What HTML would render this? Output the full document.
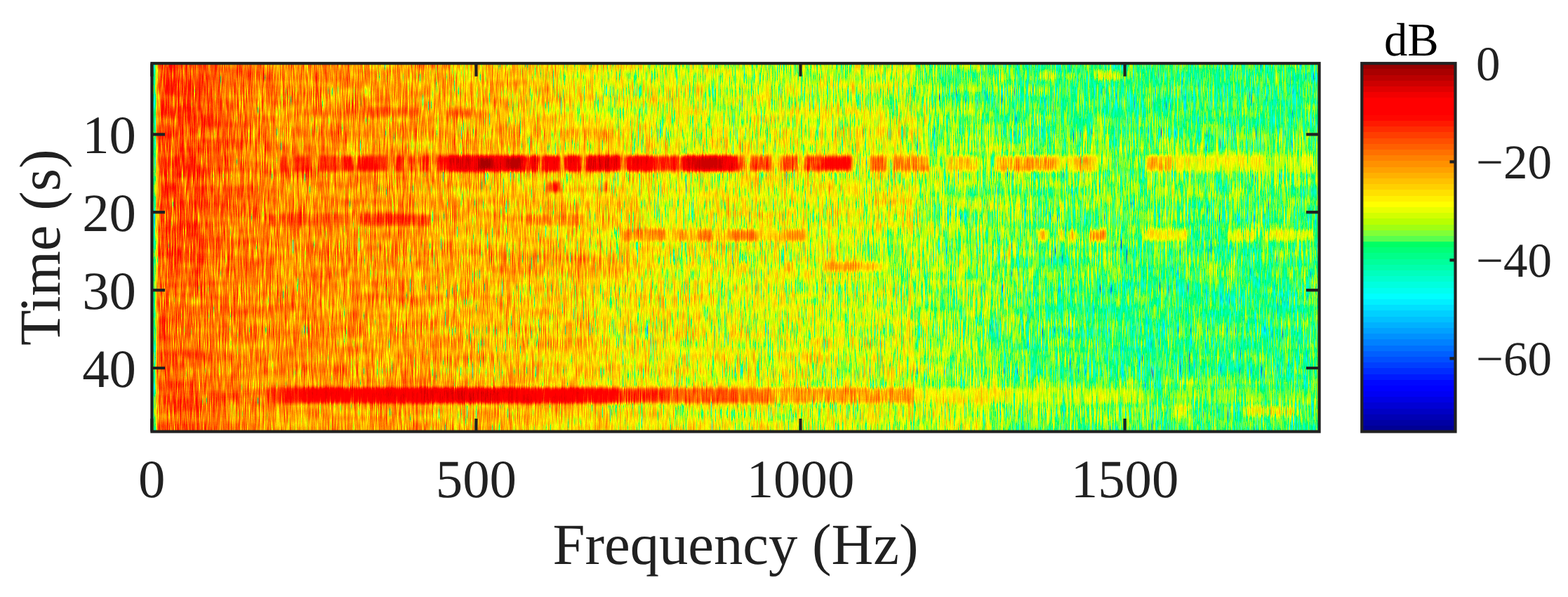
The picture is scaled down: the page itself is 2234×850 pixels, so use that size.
<!DOCTYPE html>
<html lang="en"><head><meta charset="utf-8"><title>Spectrogram</title>
<style>html,body{margin:0;padding:0;background:#fff;overflow:hidden}svg{display:block}text{font-family:"Liberation Serif","DejaVu Serif",serif;fill:#212121;text-rendering:geometricPrecision}</style></head>
<body>
<svg width="2234" height="850" viewBox="0 0 2234 850">
<rect width="2234" height="850" fill="#fff"/>
<defs>
<filter id="nzL" filterUnits="userSpaceOnUse" x="216.4" y="90.2" width="1663.2" height="524.3" color-interpolation-filters="sRGB">
<feTurbulence type="fractalNoise" baseFrequency="2.618 0.05" numOctaves="1" seed="7" result="ta"/>
<feColorMatrix in="ta" type="matrix" values="1 0 0 0 0 1 0 0 0 0 1 0 0 0 0 0 0 0 0 1" result="na"/>
<feTurbulence type="fractalNoise" baseFrequency="3.3 0.018" numOctaves="1" seed="23" result="tb"/>
<feColorMatrix in="tb" type="matrix" values="1 0 0 0 0 1 0 0 0 0 1 0 0 0 0 0 0 0 0 1" result="nb"/>
<feComposite in="na" in2="nb" operator="arithmetic" k1="0" k2="0.500" k3="0.500" k4="0" result="mix"/>
<feComponentTransfer in="mix" result="m"><feFuncR type="table" tableValues="0.179 0.179 0.179 0.179 0.179 0.179 0.179 0.179 0.179 0.179 0.179 0.179 0.179 0.179 0.179 0.179 0.179 0.215 0.256 0.291 0.319 0.343 0.364 0.382 0.399 0.415 0.43 0.444 0.457 0.469 0.48 0.49 0.5 0.509 0.518 0.526 0.534 0.542 0.549 0.556 0.563 0.57 0.576 0.582 0.589 0.596 0.602 0.609 0.615 0.615 0.615 0.615 0.615 0.615 0.615 0.615 0.615 0.615 0.615 0.615 0.615 0.615 0.615 0.615 0.615"/><feFuncG type="table" tableValues="0.179 0.179 0.179 0.179 0.179 0.179 0.179 0.179 0.179 0.179 0.179 0.179 0.179 0.179 0.179 0.179 0.179 0.215 0.256 0.291 0.319 0.343 0.364 0.382 0.399 0.415 0.43 0.444 0.457 0.469 0.48 0.49 0.5 0.509 0.518 0.526 0.534 0.542 0.549 0.556 0.563 0.57 0.576 0.582 0.589 0.596 0.602 0.609 0.615 0.615 0.615 0.615 0.615 0.615 0.615 0.615 0.615 0.615 0.615 0.615 0.615 0.615 0.615 0.615 0.615"/><feFuncB type="table" tableValues="0.179 0.179 0.179 0.179 0.179 0.179 0.179 0.179 0.179 0.179 0.179 0.179 0.179 0.179 0.179 0.179 0.179 0.215 0.256 0.291 0.319 0.343 0.364 0.382 0.399 0.415 0.43 0.444 0.457 0.469 0.48 0.49 0.5 0.509 0.518 0.526 0.534 0.542 0.549 0.556 0.563 0.57 0.576 0.582 0.589 0.596 0.602 0.609 0.615 0.615 0.615 0.615 0.615 0.615 0.615 0.615 0.615 0.615 0.615 0.615 0.615 0.615 0.615 0.615 0.615"/></feComponentTransfer>
<feTurbulence type="fractalNoise" baseFrequency="0.013 0.06" numOctaves="2" seed="11" result="t2"/>
<feColorMatrix in="t2" type="matrix" values="1 0 0 0 0 1 0 0 0 0 1 0 0 0 0 0 0 0 0 1" result="n2"/>
<feComposite in="SourceGraphic" in2="n2" operator="arithmetic" k1="0" k2="1" k3="0.110" k4="-0.0550" result="c1"/>
<feComposite in="c1" in2="m" operator="arithmetic" k1="0" k2="1" k3="1" k4="-0.5"/>
</filter>
<filter id="nzH" filterUnits="userSpaceOnUse" x="216.4" y="90.2" width="1663.2" height="524.3" color-interpolation-filters="sRGB">
<feTurbulence type="fractalNoise" baseFrequency="2.618 0.05" numOctaves="1" seed="7" result="ta"/>
<feColorMatrix in="ta" type="matrix" values="1 0 0 0 0 1 0 0 0 0 1 0 0 0 0 0 0 0 0 1" result="na"/>
<feTurbulence type="fractalNoise" baseFrequency="3.3 0.018" numOctaves="1" seed="23" result="tb"/>
<feColorMatrix in="tb" type="matrix" values="1 0 0 0 0 1 0 0 0 0 1 0 0 0 0 0 0 0 0 1" result="nb"/>
<feComposite in="na" in2="nb" operator="arithmetic" k1="0" k2="0.500" k3="0.500" k4="0" result="mix"/>
<feComponentTransfer in="mix" result="m"><feFuncR type="table" tableValues="0.126 0.126 0.126 0.126 0.126 0.126 0.126 0.126 0.126 0.126 0.126 0.126 0.126 0.126 0.126 0.126 0.126 0.168 0.215 0.256 0.289 0.317 0.341 0.363 0.383 0.401 0.419 0.435 0.45 0.463 0.476 0.488 0.5 0.511 0.521 0.531 0.54 0.549 0.558 0.566 0.574 0.582 0.589 0.596 0.604 0.612 0.619 0.627 0.634 0.634 0.634 0.634 0.634 0.634 0.634 0.634 0.634 0.634 0.634 0.634 0.634 0.634 0.634 0.634 0.634"/><feFuncG type="table" tableValues="0.126 0.126 0.126 0.126 0.126 0.126 0.126 0.126 0.126 0.126 0.126 0.126 0.126 0.126 0.126 0.126 0.126 0.168 0.215 0.256 0.289 0.317 0.341 0.363 0.383 0.401 0.419 0.435 0.45 0.463 0.476 0.488 0.5 0.511 0.521 0.531 0.54 0.549 0.558 0.566 0.574 0.582 0.589 0.596 0.604 0.612 0.619 0.627 0.634 0.634 0.634 0.634 0.634 0.634 0.634 0.634 0.634 0.634 0.634 0.634 0.634 0.634 0.634 0.634 0.634"/><feFuncB type="table" tableValues="0.126 0.126 0.126 0.126 0.126 0.126 0.126 0.126 0.126 0.126 0.126 0.126 0.126 0.126 0.126 0.126 0.126 0.168 0.215 0.256 0.289 0.317 0.341 0.363 0.383 0.401 0.419 0.435 0.45 0.463 0.476 0.488 0.5 0.511 0.521 0.531 0.54 0.549 0.558 0.566 0.574 0.582 0.589 0.596 0.604 0.612 0.619 0.627 0.634 0.634 0.634 0.634 0.634 0.634 0.634 0.634 0.634 0.634 0.634 0.634 0.634 0.634 0.634 0.634 0.634"/></feComponentTransfer>
<feTurbulence type="fractalNoise" baseFrequency="0.013 0.06" numOctaves="2" seed="11" result="t2"/>
<feColorMatrix in="t2" type="matrix" values="1 0 0 0 0 1 0 0 0 0 1 0 0 0 0 0 0 0 0 1" result="n2"/>
<feComposite in="SourceGraphic" in2="n2" operator="arithmetic" k1="0" k2="1" k3="0.110" k4="-0.0550" result="c1"/>
<feComposite in="c1" in2="m" operator="arithmetic" k1="0" k2="1" k3="1" k4="-0.5"/>
</filter>
<filter id="cm" filterUnits="userSpaceOnUse" x="216.4" y="90.2" width="1663.2" height="524.3" color-interpolation-filters="sRGB">
<feComponentTransfer><feFuncR type="discrete" tableValues="0 0 0 0 0 0 0 0 0 0 0 0 0 0 0 0 0 0 0 0 0 0 0 0 0 0 0 0 0 0 0 0 0 0.348 0.501 0.622 0.727 0.823 0.914 1 1 1 1 1 1 1 1 1 1 1 1 1 1 1 1 1 1 1 0.948 0.877 0.806 0.734 0.661 0.588"/><feFuncG type="discrete" tableValues="0 0 0 0 0 0 0 0 0.029 0.102 0.173 0.241 0.308 0.374 0.44 0.504 0.568 0.631 0.693 0.756 0.817 0.878 0.939 1 1 1 1 1 1 1 1 1 1 1 1 1 1 1 1 1 0.939 0.878 0.817 0.756 0.693 0.631 0.568 0.504 0.44 0.374 0.308 0.241 0.173 0.102 0.029 0 0 0 0 0 0 0 0 0"/><feFuncB type="discrete" tableValues="0.579 0.643 0.707 0.77 0.833 0.895 0.957 1 1 1 1 1 1 1 1 1 1 1 1 1 1 1 1 1 0.937 0.873 0.808 0.743 0.676 0.608 0.538 0.466 0.391 0.309 0.215 0.075 0 0 0 0 0 0 0 0 0 0 0 0 0 0 0 0 0 0 0 0 0 0 0 0 0 0 0 0"/></feComponentTransfer>
</filter>
<filter id="b1" filterUnits="userSpaceOnUse" x="156.4" y="30.2" width="1783.2" height="644.3" color-interpolation-filters="sRGB"><feGaussianBlur stdDeviation="14 7"/></filter>
<filter id="b2" filterUnits="userSpaceOnUse" x="216.4" y="90.2" width="1663.2" height="524.3" color-interpolation-filters="sRGB"><feGaussianBlur stdDeviation="2.4 2.4"/></filter>
<linearGradient id="bg" gradientUnits="userSpaceOnUse" x1="216.4" y1="0" x2="1879.6" y2="0"><stop offset="0.0000" stop-color="#7a7a7a"/><stop offset="0.0028" stop-color="#7a7a7a"/><stop offset="0.0040" stop-color="#adadad"/><stop offset="0.0066" stop-color="#cacaca"/><stop offset="0.0144" stop-color="#cecece"/><stop offset="0.0325" stop-color="#cccccc"/><stop offset="0.0505" stop-color="#c7c7c7"/><stop offset="0.0806" stop-color="#c1c1c1"/><stop offset="0.1106" stop-color="#bdbdbd"/><stop offset="0.1707" stop-color="#bababa"/><stop offset="0.2549" stop-color="#b3b3b3"/><stop offset="0.3511" stop-color="#a9a9a9"/><stop offset="0.4112" stop-color="#a2a2a2"/><stop offset="0.4713" stop-color="#9e9e9e"/><stop offset="0.5614" stop-color="#989898"/><stop offset="0.6492" stop-color="#949494"/><stop offset="0.6528" stop-color="#909090"/><stop offset="0.7117" stop-color="#8c8c8c"/><stop offset="0.7718" stop-color="#878787"/><stop offset="0.8320" stop-color="#848484"/><stop offset="1.0003" stop-color="#828282"/></linearGradient>
<linearGradient id="mg" gradientUnits="userSpaceOnUse" x1="280" y1="0" x2="700" y2="0"><stop offset="0" stop-color="#000"/><stop offset="1" stop-color="#fff"/></linearGradient>
<mask id="mk" maskUnits="userSpaceOnUse" x="216.4" y="90.2" width="1663.2" height="524.3"><rect x="216.4" y="90.2" width="1663.2" height="524.3" fill="url(#mg)"/></mask>
<g id="S">
<rect x="216.4" y="90.2" width="1663.2" height="524.3" fill="url(#bg)"/>
<g filter="url(#b1)">
<rect x="800" y="92" width="530" height="98" fill="#8e8e8e" opacity="0.35"/>
<rect x="1330" y="92" width="550" height="108" fill="#737373" opacity="0.25"/>
<rect x="1450" y="400" width="430" height="140" fill="#6f6f6f" opacity="0.20"/>
<rect x="1050" y="150" width="280" height="180" fill="#adadad" opacity="0.30"/>
<rect x="225" y="580" width="295" height="34" fill="#b0b0b0" opacity="0.40"/>
<rect x="230" y="380" width="220" height="170" fill="#b7b7b7" opacity="0.45"/>
<rect x="1050" y="577" width="370" height="37" fill="#a6a6a6" opacity="0.30"/>
<rect x="1050" y="470" width="250" height="75" fill="#a6a6a6" opacity="0.30"/>
<rect x="1300" y="185" width="580" height="115" fill="#929292" opacity="0.35"/>
<rect x="1300" y="545" width="420" height="69" fill="#959595" opacity="0.35"/>
<rect x="630" y="358" width="270" height="34" fill="#c5c5c5" opacity="0.40"/>
<rect x="770" y="298" width="110" height="20" fill="#c1c1c1" opacity="0.40"/>
<rect x="770" y="180" width="160" height="20" fill="#c1c1c1" opacity="0.35"/>
<rect x="770" y="475" width="80" height="23" fill="#c1c1c1" opacity="0.35"/>
</g>
<g filter="url(#b2)">
<rect x="1673" y="214.8" width="204" height="32" fill="#939393" opacity="0.6"/>
<rect x="401" y="222.3" width="9" height="21" fill="#d4d4d4" opacity="0.92"/>
<rect x="420" y="222.3" width="23" height="21" fill="#d8d8d8" opacity="0.92"/>
<rect x="455" y="222.3" width="13" height="21" fill="#d8d8d8" opacity="0.92"/>
<rect x="471" y="222.3" width="13" height="21" fill="#d7d7d7" opacity="0.92"/>
<rect x="489" y="222.3" width="15" height="21" fill="#dadada" opacity="0.92"/>
<rect x="508" y="222.3" width="42" height="21" fill="#dcdcdc" opacity="0.92"/>
<rect x="563" y="222.3" width="12" height="21" fill="#d8d8d8" opacity="0.92"/>
<rect x="583" y="222.3" width="7" height="21" fill="#d7d7d7" opacity="0.92"/>
<rect x="600" y="222.3" width="12" height="21" fill="#dadada" opacity="0.92"/>
<rect x="624" y="222.3" width="12" height="21" fill="#dddddd" opacity="0.92"/>
<rect x="638" y="222.3" width="112" height="21" fill="#eaeaea" opacity="0.92"/>
<rect x="754" y="222.3" width="14" height="21" fill="#e7e7e7" opacity="0.92"/>
<rect x="773" y="222.3" width="24" height="21" fill="#e7e7e7" opacity="0.92"/>
<rect x="805" y="222.3" width="23" height="21" fill="#e7e7e7" opacity="0.92"/>
<rect x="835" y="222.3" width="49" height="21" fill="#ececec" opacity="0.92"/>
<rect x="892" y="222.3" width="43" height="21" fill="#e7e7e7" opacity="0.92"/>
<rect x="936" y="222.3" width="15" height="21" fill="#d9d9d9" opacity="0.92"/>
<rect x="952" y="222.3" width="15" height="21" fill="#dddddd" opacity="0.92"/>
<rect x="970" y="222.3" width="80" height="21" fill="#eaeaea" opacity="0.92"/>
<rect x="1050" y="222.3" width="10" height="21" fill="#cdcdcd" opacity="0.92"/>
<rect x="1069" y="222.3" width="29" height="21" fill="#cfcfcf" opacity="0.92"/>
<rect x="1113" y="222.3" width="23" height="21" fill="#cdcdcd" opacity="0.92"/>
<rect x="1147" y="222.3" width="68" height="21" fill="#d3d3d3" opacity="0.92"/>
<rect x="1239" y="222.3" width="24" height="21" fill="#c5c5c5" opacity="0.92"/>
<rect x="1272" y="222.3" width="51" height="21" fill="#bbbbbb" opacity="0.92"/>
<rect x="1349" y="222.3" width="44" height="21" fill="#adadad" opacity="0.92"/>
<rect x="1418" y="222.3" width="87" height="21" fill="#b6b6b6" opacity="0.92"/>
<rect x="1532" y="222.3" width="30" height="21" fill="#b2b2b2" opacity="0.92"/>
<rect x="1635" y="222.3" width="35" height="21" fill="#b2b2b2" opacity="0.92"/>
<rect x="1673" y="222.3" width="127" height="21" fill="#a1a1a1" opacity="0.92"/>
<rect x="1800" y="222.3" width="77" height="21" fill="#989898" opacity="0.92"/>
<rect x="682" y="224.8" width="19" height="16" fill="#fcfcfc" opacity="0.95"/>
<rect x="722" y="224.8" width="19" height="16" fill="#f8f8f8" opacity="0.95"/>
<rect x="990" y="224.8" width="40" height="16" fill="#f3f3f3" opacity="0.95"/>
<rect x="1171" y="224.8" width="38" height="16" fill="#dddddd" opacity="0.95"/>
<rect x="1505" y="222.8" width="27" height="20" fill="#a3a3a3" opacity="0.7"/>
<rect x="1562" y="222.8" width="22" height="20" fill="#9c9c9c" opacity="0.7"/>
<rect x="380" y="552.5" width="20" height="21" fill="#cfcfcf" opacity="0.92"/>
<rect x="400" y="552.5" width="30" height="21" fill="#d9d9d9" opacity="0.92"/>
<rect x="430" y="552.5" width="170" height="21" fill="#e5e5e5" opacity="0.92"/>
<rect x="600" y="552.5" width="160" height="21" fill="#eaeaea" opacity="0.92"/>
<rect x="760" y="552.5" width="70" height="21" fill="#e5e5e5" opacity="0.92"/>
<rect x="830" y="552.5" width="50" height="21" fill="#dfdfdf" opacity="0.92"/>
<rect x="880" y="552.5" width="70" height="21" fill="#d6d6d6" opacity="0.92"/>
<rect x="950" y="552.5" width="100" height="21" fill="#cacaca" opacity="0.92"/>
<rect x="1050" y="552.5" width="50" height="21" fill="#c3c3c3" opacity="0.92"/>
<rect x="1100" y="552.5" width="204" height="21" fill="#b7b7b7" opacity="0.92"/>
<rect x="1304" y="552.5" width="136" height="21" fill="#a3a3a3" opacity="0.92"/>
<rect x="1440" y="552.5" width="190" height="21" fill="#959595" opacity="0.92"/>
<rect x="1630" y="552.5" width="250" height="21" fill="#8b8b8b" opacity="0.92"/>
<rect x="887" y="327.5" width="263" height="15" fill="#aaaaaa" opacity="0.92"/>
<rect x="887" y="327.5" width="13" height="15" fill="#c8c8c8" opacity="0.92"/>
<rect x="905" y="327.5" width="13" height="15" fill="#c8c8c8" opacity="0.92"/>
<rect x="925" y="327.5" width="23" height="15" fill="#c5c5c5" opacity="0.92"/>
<rect x="967" y="327.5" width="10" height="15" fill="#c5c5c5" opacity="0.92"/>
<rect x="995" y="327.5" width="20" height="15" fill="#c5c5c5" opacity="0.92"/>
<rect x="1041" y="327.5" width="37" height="15" fill="#c7c7c7" opacity="0.92"/>
<rect x="1120" y="327.5" width="25" height="15" fill="#c1c1c1" opacity="0.92"/>
<rect x="1480" y="327.5" width="12" height="15" fill="#b7b7b7" opacity="0.92"/>
<rect x="1508" y="327.5" width="10" height="15" fill="#adadad" opacity="0.92"/>
<rect x="1524" y="327.5" width="9" height="15" fill="#adadad" opacity="0.92"/>
<rect x="1553" y="327.5" width="23" height="15" fill="#b9b9b9" opacity="0.92"/>
<rect x="1629" y="327.5" width="63" height="15" fill="#a3a3a3" opacity="0.92"/>
<rect x="1750" y="327.5" width="38" height="15" fill="#9f9f9f" opacity="0.92"/>
<rect x="1803" y="327.5" width="67" height="15" fill="#9c9c9c" opacity="0.92"/>
<rect x="385" y="305.5" width="115" height="15" fill="#cccccc" opacity="0.8"/>
<rect x="510" y="305.5" width="102" height="15" fill="#d3d3d3" opacity="0.8"/>
<rect x="750" y="305.5" width="86" height="15" fill="#c1c1c1" opacity="0.8"/>
<rect x="1056" y="373.5" width="10" height="13" fill="#b0b0b0" opacity="0.9"/>
<rect x="1117" y="373.5" width="12" height="13" fill="#b4b4b4" opacity="0.9"/>
<rect x="1174" y="373.5" width="54" height="13" fill="#b7b7b7" opacity="0.9"/>
<rect x="1231" y="373.5" width="25" height="13" fill="#afafaf" opacity="0.9"/>
<rect x="782" y="259" width="16" height="14" fill="#d6d6d6" opacity="0.8"/>
<rect x="859" y="259" width="8" height="14" fill="#cccccc" opacity="0.8"/>
<rect x="520" y="153.5" width="80" height="13" fill="#d3d3d3" opacity="0.5"/>
<rect x="640" y="153.5" width="32" height="13" fill="#cfcfcf" opacity="0.5"/>
<rect x="1772" y="578" width="79" height="14" fill="#9f9f9f" opacity="0.7"/>
<rect x="1673" y="578" width="19" height="14" fill="#9f9f9f" opacity="0.7"/>
<rect x="1480" y="100" width="20" height="14" fill="#9f9f9f" opacity="0.7"/>
<rect x="1559" y="100" width="38" height="14" fill="#9f9f9f" opacity="0.7"/>
<rect x="1296.5" y="90" width="3" height="524" fill="#b0b0b0" opacity="0.7"/>
</g>
</g>
</defs>
<g filter="url(#cm)">
<g filter="url(#nzL)"><use href="#S"/></g>
<g mask="url(#mk)"><g filter="url(#nzH)"><use href="#S"/></g></g>
<g filter="url(#b2)">
<rect x="1673" y="214.8" width="204" height="32" fill="#939393" opacity="0.2"/>
<rect x="401" y="222.3" width="9" height="21" fill="#d4d4d4" opacity="0.4"/>
<rect x="420" y="222.3" width="23" height="21" fill="#d8d8d8" opacity="0.5"/>
<rect x="455" y="222.3" width="13" height="21" fill="#d8d8d8" opacity="0.5"/>
<rect x="471" y="222.3" width="13" height="21" fill="#d7d7d7" opacity="0.5"/>
<rect x="489" y="222.3" width="15" height="21" fill="#dadada" opacity="0.5"/>
<rect x="508" y="222.3" width="42" height="21" fill="#dcdcdc" opacity="0.5"/>
<rect x="563" y="222.3" width="12" height="21" fill="#d8d8d8" opacity="0.5"/>
<rect x="583" y="222.3" width="7" height="21" fill="#d7d7d7" opacity="0.5"/>
<rect x="600" y="222.3" width="12" height="21" fill="#dadada" opacity="0.5"/>
<rect x="624" y="222.3" width="12" height="21" fill="#dddddd" opacity="0.5"/>
<rect x="638" y="222.3" width="112" height="21" fill="#eaeaea" opacity="0.6"/>
<rect x="754" y="222.3" width="14" height="21" fill="#e7e7e7" opacity="0.6"/>
<rect x="773" y="222.3" width="24" height="21" fill="#e7e7e7" opacity="0.6"/>
<rect x="805" y="222.3" width="23" height="21" fill="#e7e7e7" opacity="0.6"/>
<rect x="835" y="222.3" width="49" height="21" fill="#ececec" opacity="0.6"/>
<rect x="892" y="222.3" width="43" height="21" fill="#e7e7e7" opacity="0.6"/>
<rect x="936" y="222.3" width="15" height="21" fill="#d9d9d9" opacity="0.5"/>
<rect x="952" y="222.3" width="15" height="21" fill="#dddddd" opacity="0.5"/>
<rect x="970" y="222.3" width="80" height="21" fill="#eaeaea" opacity="0.6"/>
<rect x="1050" y="222.3" width="10" height="21" fill="#cdcdcd" opacity="0.4"/>
<rect x="1069" y="222.3" width="29" height="21" fill="#cfcfcf" opacity="0.4"/>
<rect x="1113" y="222.3" width="23" height="21" fill="#cdcdcd" opacity="0.4"/>
<rect x="1147" y="222.3" width="68" height="21" fill="#d3d3d3" opacity="0.4"/>
<rect x="1239" y="222.3" width="24" height="21" fill="#c5c5c5" opacity="0.4"/>
<rect x="1272" y="222.3" width="51" height="21" fill="#bbbbbb" opacity="0.3"/>
<rect x="1349" y="222.3" width="44" height="21" fill="#adadad" opacity="0.3"/>
<rect x="1418" y="222.3" width="87" height="21" fill="#b6b6b6" opacity="0.3"/>
<rect x="1532" y="222.3" width="30" height="21" fill="#b2b2b2" opacity="0.3"/>
<rect x="1635" y="222.3" width="35" height="21" fill="#b2b2b2" opacity="0.3"/>
<rect x="1673" y="222.3" width="127" height="21" fill="#a1a1a1" opacity="0.3"/>
<rect x="1800" y="222.3" width="77" height="21" fill="#989898" opacity="0.3"/>
<rect x="682" y="224.8" width="19" height="16" fill="#fcfcfc" opacity="0.8"/>
<rect x="722" y="224.8" width="19" height="16" fill="#f8f8f8" opacity="0.8"/>
<rect x="990" y="224.8" width="40" height="16" fill="#f3f3f3" opacity="0.8"/>
<rect x="1171" y="224.8" width="38" height="16" fill="#dddddd" opacity="0.8"/>
<rect x="1505" y="222.8" width="27" height="20" fill="#a3a3a3" opacity="0.3"/>
<rect x="1562" y="222.8" width="22" height="20" fill="#9c9c9c" opacity="0.3"/>
<rect x="380" y="552.5" width="20" height="21" fill="#cfcfcf" opacity="0.4"/>
<rect x="400" y="552.5" width="30" height="21" fill="#d9d9d9" opacity="0.5"/>
<rect x="430" y="552.5" width="170" height="21" fill="#e5e5e5" opacity="0.6"/>
<rect x="600" y="552.5" width="160" height="21" fill="#eaeaea" opacity="0.6"/>
<rect x="760" y="552.5" width="70" height="21" fill="#e5e5e5" opacity="0.6"/>
<rect x="830" y="552.5" width="50" height="21" fill="#dfdfdf" opacity="0.6"/>
<rect x="880" y="552.5" width="70" height="21" fill="#d6d6d6" opacity="0.4"/>
<rect x="950" y="552.5" width="100" height="21" fill="#cacaca" opacity="0.4"/>
<rect x="1050" y="552.5" width="50" height="21" fill="#c3c3c3" opacity="0.4"/>
<rect x="1100" y="552.5" width="204" height="21" fill="#b7b7b7" opacity="0.3"/>
<rect x="1304" y="552.5" width="136" height="21" fill="#a3a3a3" opacity="0.3"/>
<rect x="1440" y="552.5" width="190" height="21" fill="#959595" opacity="0.3"/>
<rect x="1630" y="552.5" width="250" height="21" fill="#8b8b8b" opacity="0.3"/>
<rect x="887" y="327.5" width="263" height="15" fill="#aaaaaa" opacity="0.3"/>
<rect x="887" y="327.5" width="13" height="15" fill="#c8c8c8" opacity="0.4"/>
<rect x="905" y="327.5" width="13" height="15" fill="#c8c8c8" opacity="0.4"/>
<rect x="925" y="327.5" width="23" height="15" fill="#c5c5c5" opacity="0.4"/>
<rect x="967" y="327.5" width="10" height="15" fill="#c5c5c5" opacity="0.4"/>
<rect x="995" y="327.5" width="20" height="15" fill="#c5c5c5" opacity="0.4"/>
<rect x="1041" y="327.5" width="37" height="15" fill="#c7c7c7" opacity="0.4"/>
<rect x="1120" y="327.5" width="25" height="15" fill="#c1c1c1" opacity="0.4"/>
<rect x="1480" y="327.5" width="12" height="15" fill="#b7b7b7" opacity="0.3"/>
<rect x="1508" y="327.5" width="10" height="15" fill="#adadad" opacity="0.3"/>
<rect x="1524" y="327.5" width="9" height="15" fill="#adadad" opacity="0.3"/>
<rect x="1553" y="327.5" width="23" height="15" fill="#b9b9b9" opacity="0.3"/>
<rect x="1629" y="327.5" width="63" height="15" fill="#a3a3a3" opacity="0.3"/>
<rect x="1750" y="327.5" width="38" height="15" fill="#9f9f9f" opacity="0.3"/>
<rect x="1803" y="327.5" width="67" height="15" fill="#9c9c9c" opacity="0.3"/>
<rect x="385" y="305.5" width="115" height="15" fill="#cccccc" opacity="0.3"/>
<rect x="510" y="305.5" width="102" height="15" fill="#d3d3d3" opacity="0.3"/>
<rect x="750" y="305.5" width="86" height="15" fill="#c1c1c1" opacity="0.3"/>
<rect x="1056" y="373.5" width="10" height="13" fill="#b0b0b0" opacity="0.4"/>
<rect x="1117" y="373.5" width="12" height="13" fill="#b4b4b4" opacity="0.4"/>
<rect x="1174" y="373.5" width="54" height="13" fill="#b7b7b7" opacity="0.4"/>
<rect x="1231" y="373.5" width="25" height="13" fill="#afafaf" opacity="0.4"/>
<rect x="782" y="259" width="16" height="14" fill="#d6d6d6" opacity="0.4"/>
<rect x="859" y="259" width="8" height="14" fill="#cccccc" opacity="0.4"/>
<rect x="520" y="153.5" width="80" height="13" fill="#d3d3d3" opacity="0.2"/>
<rect x="640" y="153.5" width="32" height="13" fill="#cfcfcf" opacity="0.2"/>
<rect x="1772" y="578" width="79" height="14" fill="#9f9f9f" opacity="0.2"/>
<rect x="1673" y="578" width="19" height="14" fill="#9f9f9f" opacity="0.2"/>
<rect x="1480" y="100" width="20" height="14" fill="#9f9f9f" opacity="0.2"/>
<rect x="1559" y="100" width="38" height="14" fill="#9f9f9f" opacity="0.2"/>
<rect x="1296.5" y="90" width="3" height="524" fill="#b0b0b0" opacity="0.3"/>
</g>
</g>
<g shape-rendering="crispEdges">
<rect x="1940.3" y="90.15" width="133.2" height="8.79" fill="#960000"/>
<rect x="1940.3" y="98.34" width="133.2" height="8.79" fill="#a90000"/>
<rect x="1940.3" y="106.53" width="133.2" height="8.79" fill="#bb0000"/>
<rect x="1940.3" y="114.73" width="133.2" height="8.79" fill="#cd0000"/>
<rect x="1940.3" y="122.92" width="133.2" height="8.79" fill="#e00000"/>
<rect x="1940.3" y="131.11" width="133.2" height="8.79" fill="#f20000"/>
<rect x="1940.3" y="139.30" width="133.2" height="8.79" fill="#ff0000"/>
<rect x="1940.3" y="147.50" width="133.2" height="8.79" fill="#ff0000"/>
<rect x="1940.3" y="155.69" width="133.2" height="8.79" fill="#ff0000"/>
<rect x="1940.3" y="163.88" width="133.2" height="8.79" fill="#ff0700"/>
<rect x="1940.3" y="172.07" width="133.2" height="8.79" fill="#ff1a00"/>
<rect x="1940.3" y="180.26" width="133.2" height="8.79" fill="#ff2c00"/>
<rect x="1940.3" y="188.46" width="133.2" height="8.79" fill="#ff3e00"/>
<rect x="1940.3" y="196.65" width="133.2" height="8.79" fill="#ff4f00"/>
<rect x="1940.3" y="204.84" width="133.2" height="8.79" fill="#ff5f00"/>
<rect x="1940.3" y="213.03" width="133.2" height="8.79" fill="#ff7000"/>
<rect x="1940.3" y="221.23" width="133.2" height="8.79" fill="#ff8100"/>
<rect x="1940.3" y="229.42" width="133.2" height="8.79" fill="#ff9100"/>
<rect x="1940.3" y="237.61" width="133.2" height="8.79" fill="#ffa100"/>
<rect x="1940.3" y="245.80" width="133.2" height="8.79" fill="#ffb100"/>
<rect x="1940.3" y="253.99" width="133.2" height="8.79" fill="#ffc100"/>
<rect x="1940.3" y="262.19" width="133.2" height="8.79" fill="#ffd000"/>
<rect x="1940.3" y="270.38" width="133.2" height="8.79" fill="#ffe000"/>
<rect x="1940.3" y="278.57" width="133.2" height="8.79" fill="#fff000"/>
<rect x="1940.3" y="286.76" width="133.2" height="8.79" fill="#ffff00"/>
<rect x="1940.3" y="294.95" width="133.2" height="8.79" fill="#e9ff00"/>
<rect x="1940.3" y="303.15" width="133.2" height="8.79" fill="#d2ff00"/>
<rect x="1940.3" y="311.34" width="133.2" height="8.79" fill="#b9ff00"/>
<rect x="1940.3" y="319.53" width="133.2" height="8.79" fill="#9fff13"/>
<rect x="1940.3" y="327.72" width="133.2" height="8.79" fill="#80ff37"/>
<rect x="1940.3" y="335.92" width="133.2" height="8.79" fill="#59ff4f"/>
<rect x="1940.3" y="344.11" width="133.2" height="8.79" fill="#00ff64"/>
<rect x="1940.3" y="352.30" width="133.2" height="8.79" fill="#00ff77"/>
<rect x="1940.3" y="360.49" width="133.2" height="8.79" fill="#00ff89"/>
<rect x="1940.3" y="368.68" width="133.2" height="8.79" fill="#00ff9b"/>
<rect x="1940.3" y="376.88" width="133.2" height="8.79" fill="#00ffac"/>
<rect x="1940.3" y="385.07" width="133.2" height="8.79" fill="#00ffbd"/>
<rect x="1940.3" y="393.26" width="133.2" height="8.79" fill="#00ffce"/>
<rect x="1940.3" y="401.45" width="133.2" height="8.79" fill="#00ffdf"/>
<rect x="1940.3" y="409.65" width="133.2" height="8.79" fill="#00ffef"/>
<rect x="1940.3" y="417.84" width="133.2" height="8.79" fill="#00ffff"/>
<rect x="1940.3" y="426.03" width="133.2" height="8.79" fill="#00f0ff"/>
<rect x="1940.3" y="434.22" width="133.2" height="8.79" fill="#00e0ff"/>
<rect x="1940.3" y="442.41" width="133.2" height="8.79" fill="#00d0ff"/>
<rect x="1940.3" y="450.61" width="133.2" height="8.79" fill="#00c1ff"/>
<rect x="1940.3" y="458.80" width="133.2" height="8.79" fill="#00b1ff"/>
<rect x="1940.3" y="466.99" width="133.2" height="8.79" fill="#00a1ff"/>
<rect x="1940.3" y="475.18" width="133.2" height="8.79" fill="#0091ff"/>
<rect x="1940.3" y="483.38" width="133.2" height="8.79" fill="#0081ff"/>
<rect x="1940.3" y="491.57" width="133.2" height="8.79" fill="#0070ff"/>
<rect x="1940.3" y="499.76" width="133.2" height="8.79" fill="#005fff"/>
<rect x="1940.3" y="507.95" width="133.2" height="8.79" fill="#004fff"/>
<rect x="1940.3" y="516.14" width="133.2" height="8.79" fill="#003eff"/>
<rect x="1940.3" y="524.34" width="133.2" height="8.79" fill="#002cff"/>
<rect x="1940.3" y="532.53" width="133.2" height="8.79" fill="#001aff"/>
<rect x="1940.3" y="540.72" width="133.2" height="8.79" fill="#0007ff"/>
<rect x="1940.3" y="548.91" width="133.2" height="8.79" fill="#0000ff"/>
<rect x="1940.3" y="557.10" width="133.2" height="8.79" fill="#0000f4"/>
<rect x="1940.3" y="565.30" width="133.2" height="8.79" fill="#0000e4"/>
<rect x="1940.3" y="573.49" width="133.2" height="8.79" fill="#0000d4"/>
<rect x="1940.3" y="581.68" width="133.2" height="8.79" fill="#0000c4"/>
<rect x="1940.3" y="589.87" width="133.2" height="8.79" fill="#0000b4"/>
<rect x="1940.3" y="598.07" width="133.2" height="8.79" fill="#0000a4"/>
<rect x="1940.3" y="606.26" width="133.2" height="8.79" fill="#000094"/>
</g>
<g fill="none" stroke="#212121" stroke-width="4.20">
<rect x="216.4" y="90.2" width="1663.2" height="524.3"/>
<rect x="1940.3" y="90.2" width="133.2" height="524.3"/>
<path d="M216.3 614.5v-18.6M216.3 90.2v18.6M678.4 614.5v-18.6M678.4 90.2v18.6M1140.5 614.5v-18.6M1140.5 90.2v18.6M1602.6 614.5v-18.6M1602.6 90.2v18.6M216.4 191.3h18.6M1879.6 191.3h-18.6M216.4 302.2h18.6M1879.6 302.2h-18.6M216.4 413.1h18.6M1879.6 413.1h-18.6M216.4 524.0h18.6M1879.6 524.0h-18.6M2073.5 230.3h-8M2073.5 370.3h-8M2073.5 510.3h-8"/>
</g>
<g font-size="76.8">
<text x="194" y="218.3" text-anchor="end">10</text>
<text x="194" y="329.2" text-anchor="end">20</text>
<text x="194" y="440.1" text-anchor="end">30</text>
<text x="194" y="551.0" text-anchor="end">40</text>
<text x="216.3" y="707.5" text-anchor="middle">0</text>
<text x="678.4" y="707.5" text-anchor="middle">500</text>
<text x="1140.5" y="707.5" text-anchor="middle">1000</text>
<text x="1602.6" y="707.5" text-anchor="middle">1500</text>
</g>
<g font-size="69">
<text x="2103" y="113.5">0</text>
<text x="2103" y="253.5">−20</text>
<text x="2103" y="393.5">−40</text>
<text x="2103" y="533.5">−60</text>
</g>
<text x="1048.0" y="803.2" font-size="82.7" text-anchor="middle">Frequency (Hz)</text>
<text transform="translate(85.3 352.3) rotate(-90)" font-size="82.7" text-anchor="middle">Time (s)</text>
<text x="2010.9" y="78.7" font-size="66.7" text-anchor="middle" style="fill:#000">dB</text>
</svg>
</body></html>
